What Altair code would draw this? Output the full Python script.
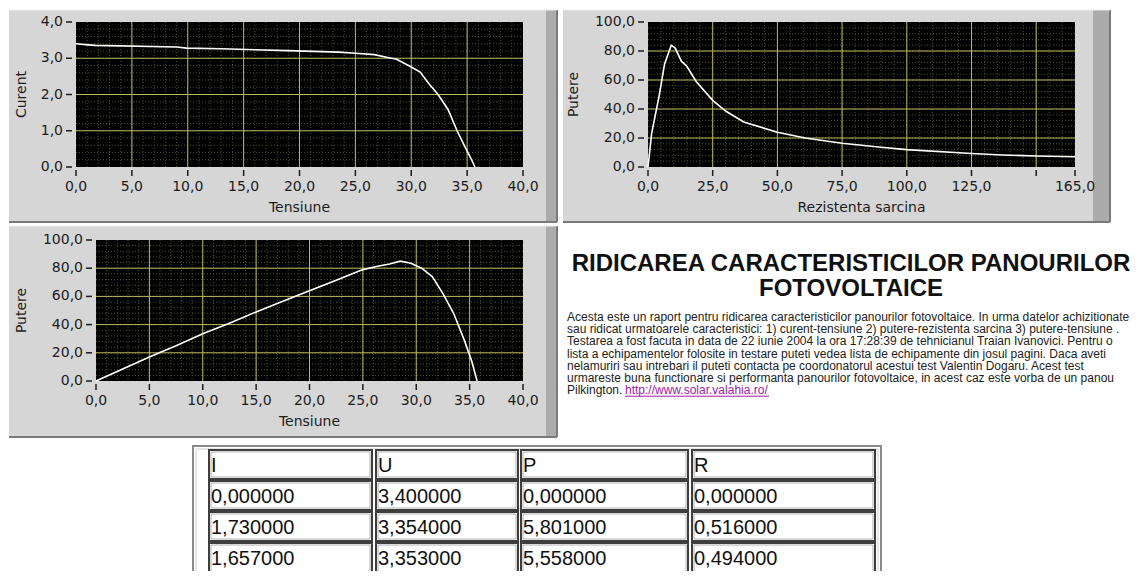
import altair as alt
import pandas as pd

# ---------------- data ----------------
# Curent - Tensiune
iv_tensiune = [0.0, 1.1, 1.73, 9.0, 9.9, 13.0, 19.0, 23.5, 25.0, 26.7, 27.9, 28.7,
               30.0, 30.8, 31.6, 32.4, 33.3, 34.1, 34.9, 35.4, 35.7]
iv_curent = [3.40, 3.37, 3.354, 3.31, 3.28, 3.26, 3.21, 3.17, 3.14, 3.10, 3.02, 2.97,
             2.76, 2.62, 2.29, 2.00, 1.58, 1.00, 0.50, 0.20, 0.00]

# Putere - Rezistenta sarcina
pr_rezistenta = [0.0, 1.4, 4.3, 6.4, 9.0, 10.5, 12.9, 15.0, 18.6, 25.0, 30.0, 37.0,
                 50.0, 60.7, 75.0, 90.0, 100.0, 125.0, 137.0, 150.0, 165.0]
pr_putere = [0.0, 23.0, 49.0, 71.0, 84.0, 82.0, 73.0, 69.5, 59.0, 46.0, 38.6, 31.0,
             24.0, 20.0, 16.4, 13.6, 12.0, 9.3, 8.3, 7.6, 7.1]

# Putere - Tensiune
pv_tensiune = [0.0, 2.5, 5.0, 7.5, 10.0, 12.5, 15.0, 17.5, 20.0, 22.5, 25.0, 26.5,
               27.5, 28.5, 29.5, 30.5, 31.5, 32.5, 33.5, 34.5, 35.2, 35.7]
pv_putere = [0.0, 8.5, 17.0, 25.0, 33.5, 41.0, 49.0, 56.5, 64.0, 71.5, 79.0, 81.5,
             83.0, 85.0, 83.5, 80.0, 74.0, 62.0, 48.0, 29.0, 14.0, 0.0]

# tick values
ticks_tensiune = [0, 5, 10, 15, 20, 25, 30, 35, 40]
ticks_curent = [0, 1, 2, 3, 4]
ticks_putere = [0, 20, 40, 60, 80, 100]
ticks_rezistenta = [0, 25, 50, 75, 100, 125, 150, 165]
labels_rezistenta = [0, 25, 50, 75, 100, 125, 165]
minor_tensiune = list(range(0, 41))
minor_curent = [i / 5 for i in range(0, 21)]
minor_putere = list(range(0, 101, 4))
minor_rezistenta = list(range(0, 166, 5))

# text block
title_lines = ["RIDICAREA CARACTERISTICILOR PANOURILOR", "FOTOVOLTAICE"]
paragraph_lines = [
    "Acesta este un raport pentru ridicarea caracteristicilor panourilor fotovoltaice. In urma datelor achizitionate",
    "sau ridicat urmatoarele caracteristici:  1) curent-tensiune 2) putere-rezistenta sarcina 3) putere-tensiune .",
    "Testarea a fost facuta in data de 22 iunie 2004 la ora 17:28:39 de tehnicianul Traian Ivanovici. Pentru o",
    "lista a echipamentelor folosite in testare puteti vedea lista de echipamente din josul pagini. Daca aveti",
    "nelamuriri sau intrebari il puteti contacta pe coordonatorul acestui test Valentin Dogaru. Acest test",
    "urmareste buna functionare si performanta panourilor fotovoltaice, in acest caz este vorba de un panou",
    "Pilkington.",
]
link_text = "http://www.solar.valahia.ro/"

# table
table_headers = ["I", "U", "P", "R"]
table_I = [0.0, 1.73, 1.657]
table_U = [3.4, 3.354, 3.353]
table_P = [0.0, 5.801, 5.558]
table_R = [0.0, 0.516, 0.494]

# ---------------- styling / layout ----------------
PANEL = "#d6d6d6"
BAR = "#ababab"
EDGE = "#7a7a7a"
MAJOR = "#b9b95e"
MINOR = "#505020"
INK = "#1c1c1c"
AXFONT = "DejaVu Sans"
AXSIZE = 14

ONE = pd.DataFrame({"k": [0]})
FMT = "replace(format(datum.v, '.1f'), '.', ',')"


def make_panel(bg, plot, bar_x, xdom, ydom, xticks, xlabels, yticks, xminor, yminor,
               cx, cy, xtitle, ytitle, ytitle_x):
    bx0, by0, bx1, by1 = bg
    px0, py0, px1, py1 = plot
    xs = alt.Scale(domain=list(xdom), range=[px0, px1], nice=False, zero=False)
    ys = alt.Scale(domain=list(ydom), range=[py1, py0], nice=False, zero=False)
    base = alt.Chart(ONE)
    L = []
    L.append(base.mark_rect(color=PANEL).encode(
        x=alt.value(bx0), x2=alt.value(bx1), y=alt.value(by0), y2=alt.value(by1)))
    L.append(base.mark_rect(color=BAR).encode(
        x=alt.value(bar_x), x2=alt.value(bx1), y=alt.value(by0), y2=alt.value(by1)))
    L.append(base.mark_rule(color=EDGE, strokeWidth=2).encode(
        x=alt.value(bx0), x2=alt.value(bx1), y=alt.value(by1)))
    L.append(base.mark_rule(color=EDGE, strokeWidth=2).encode(
        x=alt.value(bx1), y=alt.value(by0), y2=alt.value(by1)))
    L.append(base.mark_rule(color="#eeeeee", strokeWidth=1).encode(
        x=alt.value(bx0), x2=alt.value(bx1), y=alt.value(by0)))
    L.append(base.mark_rect(color="#000000").encode(
        x=alt.value(px0), x2=alt.value(px1), y=alt.value(py0), y2=alt.value(py1)))

    def inner(vals, dom):
        return [v for v in vals if dom[0] < v < dom[1]]

    L.append(alt.Chart(pd.DataFrame({"v": inner(xminor, xdom)})).mark_rule(
        color=MINOR, strokeDash=[1, 2], strokeWidth=1).encode(
        x=alt.X("v:Q", scale=xs, axis=None), y=alt.value(py0), y2=alt.value(py1)))
    L.append(alt.Chart(pd.DataFrame({"v": inner(yminor, ydom)})).mark_rule(
        color=MINOR, strokeDash=[1, 2], strokeWidth=1).encode(
        y=alt.Y("v:Q", scale=ys, axis=None), x=alt.value(px0), x2=alt.value(px1)))
    L.append(alt.Chart(pd.DataFrame({"v": inner(xticks, xdom)})).mark_rule(
        color=MAJOR, strokeWidth=1).encode(
        x=alt.X("v:Q", scale=xs, axis=None), y=alt.value(py0), y2=alt.value(py1)))
    L.append(alt.Chart(pd.DataFrame({"v": inner(yticks, ydom)})).mark_rule(
        color=MAJOR, strokeWidth=1).encode(
        y=alt.Y("v:Q", scale=ys, axis=None), x=alt.value(px0), x2=alt.value(px1)))
    # curve
    L.append(alt.Chart(pd.DataFrame({"x": cx, "y": cy})).mark_line(
        color="#ffffff", strokeWidth=1.6).encode(
        x=alt.X("x:Q", scale=xs, axis=None), y=alt.Y("y:Q", scale=ys, axis=None)))
    # ticks
    L.append(alt.Chart(pd.DataFrame({"v": xticks})).mark_rule(color=INK, strokeWidth=1.5).encode(
        x=alt.X("v:Q", scale=xs, axis=None), y=alt.value(py1 + 3), y2=alt.value(py1 + 9)))
    L.append(alt.Chart(pd.DataFrame({"v": yticks})).mark_rule(color=INK, strokeWidth=1.5).encode(
        y=alt.Y("v:Q", scale=ys, axis=None), x=alt.value(px0 - 10), x2=alt.value(px0 - 4)))
    # tick labels
    L.append(alt.Chart(pd.DataFrame({"v": xlabels})).transform_calculate(lab=FMT).mark_text(
        font=AXFONT, fontSize=AXSIZE, color=INK, align="center", baseline="middle").encode(
        x=alt.X("v:Q", scale=xs, axis=None), y=alt.value(py1 + 20), text="lab:N"))
    L.append(alt.Chart(pd.DataFrame({"v": yticks})).transform_calculate(lab=FMT).mark_text(
        font=AXFONT, fontSize=AXSIZE, color=INK, align="right", baseline="middle").encode(
        y=alt.Y("v:Q", scale=ys, axis=None), x=alt.value(px0 - 13), text="lab:N"))
    # axis titles
    L.append(base.mark_text(text=xtitle, font=AXFONT, fontSize=AXSIZE, color=INK,
                            align="center", baseline="middle").encode(
        x=alt.value((px0 + px1) / 2), y=alt.value(py1 + 41)))
    L.append(base.mark_text(text=ytitle, font=AXFONT, fontSize=AXSIZE, color=INK, angle=270,
                            align="center", baseline="middle").encode(
        x=alt.value(ytitle_x), y=alt.value((py0 + py1) / 2)))
    return alt.layer(*L)


panel_a = make_panel((1, 2, 549, 214), (68, 14, 515, 159), 538, (0, 40), (0, 4),
                     ticks_tensiune, ticks_tensiune, ticks_curent, minor_tensiune, minor_curent,
                     iv_tensiune, iv_curent, "Tensiune", "Curent", 14)
panel_b = make_panel((555, 2, 1102, 214), (640, 14, 1067, 159), 1085, (0, 165), (0, 100),
                     ticks_rezistenta, labels_rezistenta, ticks_putere, minor_rezistenta, minor_putere,
                     pr_rezistenta, pr_putere, "Rezistenta sarcina", "Putere", 566)
panel_c = make_panel((1, 218, 549, 429), (88, 232, 515, 373), 538, (0, 40), (0, 100),
                     ticks_tensiune, ticks_tensiune, ticks_putere, minor_tensiune, minor_putere,
                     pv_tensiune, pv_putere, "Tensiune", "Putere", 14)

# ---------------- text block ----------------
title_df = pd.DataFrame({"t": title_lines, "py": [256, 281]})
title_layer = alt.Chart(title_df).mark_text(
    font="Liberation Sans", fontWeight="bold", fontSize=24, color="#111111",
    align="center", baseline="middle").encode(
    x=alt.value(843), y=alt.Y("py:Q", scale=None, axis=None), text="t:N")

PARA_X, PARA_Y0, PARA_DY = 559, 309, 12.2
para_df = pd.DataFrame({"t": paragraph_lines,
                        "py": [PARA_Y0 + i * PARA_DY for i in range(len(paragraph_lines))]})
para_layer = alt.Chart(para_df).mark_text(
    font="Liberation Sans", fontSize=12, color="#222222", align="left", baseline="middle").encode(
    x=alt.value(PARA_X), y=alt.Y("py:Q", scale=None, axis=None), text="t:N")
link_y = PARA_Y0 + 6 * PARA_DY
link_layer = alt.Chart(ONE).mark_text(
    text=link_text, font="Liberation Sans", fontSize=12, color="#a020a0",
    align="left", baseline="middle").encode(x=alt.value(617), y=alt.value(link_y))
link_rule = alt.Chart(ONE).mark_rule(color="#a020a0", strokeWidth=1).encode(
    x=alt.value(617), x2=alt.value(761), y=alt.value(link_y + 6))

# ---------------- table ----------------
col_edges = [(201, 364), (368, 510), (513, 680), (684, 867)]
row_edges = [(442, 471), (473, 502), (504, 533), (535, 566)]


def fmt6(v):
    return f"{v:.6f}".replace(".", ",")


rows_text = [table_headers] + [
    [fmt6(a), fmt6(b), fmt6(c), fmt6(d)] for a, b, c, d in zip(table_I, table_U, table_P, table_R)
]
cells = []
for r, (y0, y1) in enumerate(row_edges):
    for c, (x0, x1) in enumerate(col_edges):
        cells.append({"x0": x0, "x1": x1, "y0": y0, "y1": y1,
                      "tx": x0 + 2, "ty": y0 + 15.5, "t": rows_text[r][c]})
cells_df = pd.DataFrame(cells)

frame = alt.Chart(ONE).mark_rect(fill="#ffffff", stroke="#8a8a8a", strokeWidth=2).encode(
    x=alt.value(185), x2=alt.value(873), y=alt.value(438), y2=alt.value(620))
frame_in = alt.Chart(ONE).mark_rect(fill="#ffffff", stroke="#cfcfcf", strokeWidth=1).encode(
    x=alt.value(188), x2=alt.value(870), y=alt.value(441), y2=alt.value(620))
cell_rects = alt.Chart(cells_df).mark_rect(fill="#ffffff", stroke="#3e3e3e", strokeWidth=2).encode(
    x=alt.X("x0:Q", scale=None, axis=None), x2="x1:Q",
    y=alt.Y("y0:Q", scale=None, axis=None), y2="y1:Q")
cell_inner = alt.Chart(cells_df).transform_calculate(
    ix0="datum.x0 + 2", ix1="datum.x1 - 2", iy0="datum.y0 + 2", iy1="datum.y1 - 2").mark_rect(
    fill="#ffffff", stroke="#b0b0b0", strokeWidth=1).encode(
    x=alt.X("ix0:Q", scale=None, axis=None), x2="ix1:Q",
    y=alt.Y("iy0:Q", scale=None, axis=None), y2="iy1:Q")
cell_text = alt.Chart(cells_df).mark_text(
    font="Liberation Sans", fontSize=20, color="#111111", align="left", baseline="middle").encode(
    x=alt.X("tx:Q", scale=None, axis=None), y=alt.Y("ty:Q", scale=None, axis=None), text="t:N")

chart = alt.layer(
    panel_a, panel_b, panel_c,
    title_layer, para_layer, link_layer, link_rule,
    frame, frame_in, cell_rects, cell_inner, cell_text,
).resolve_scale(
    x="independent", y="independent"
).properties(
    width=1124, height=563, padding=0,
    autosize=alt.AutoSizeParams(type="none"),
    background="#ffffff",
).configure_view(stroke=None)

chart.save("out.html", embed_options={"renderer": "svg", "actions": False})
